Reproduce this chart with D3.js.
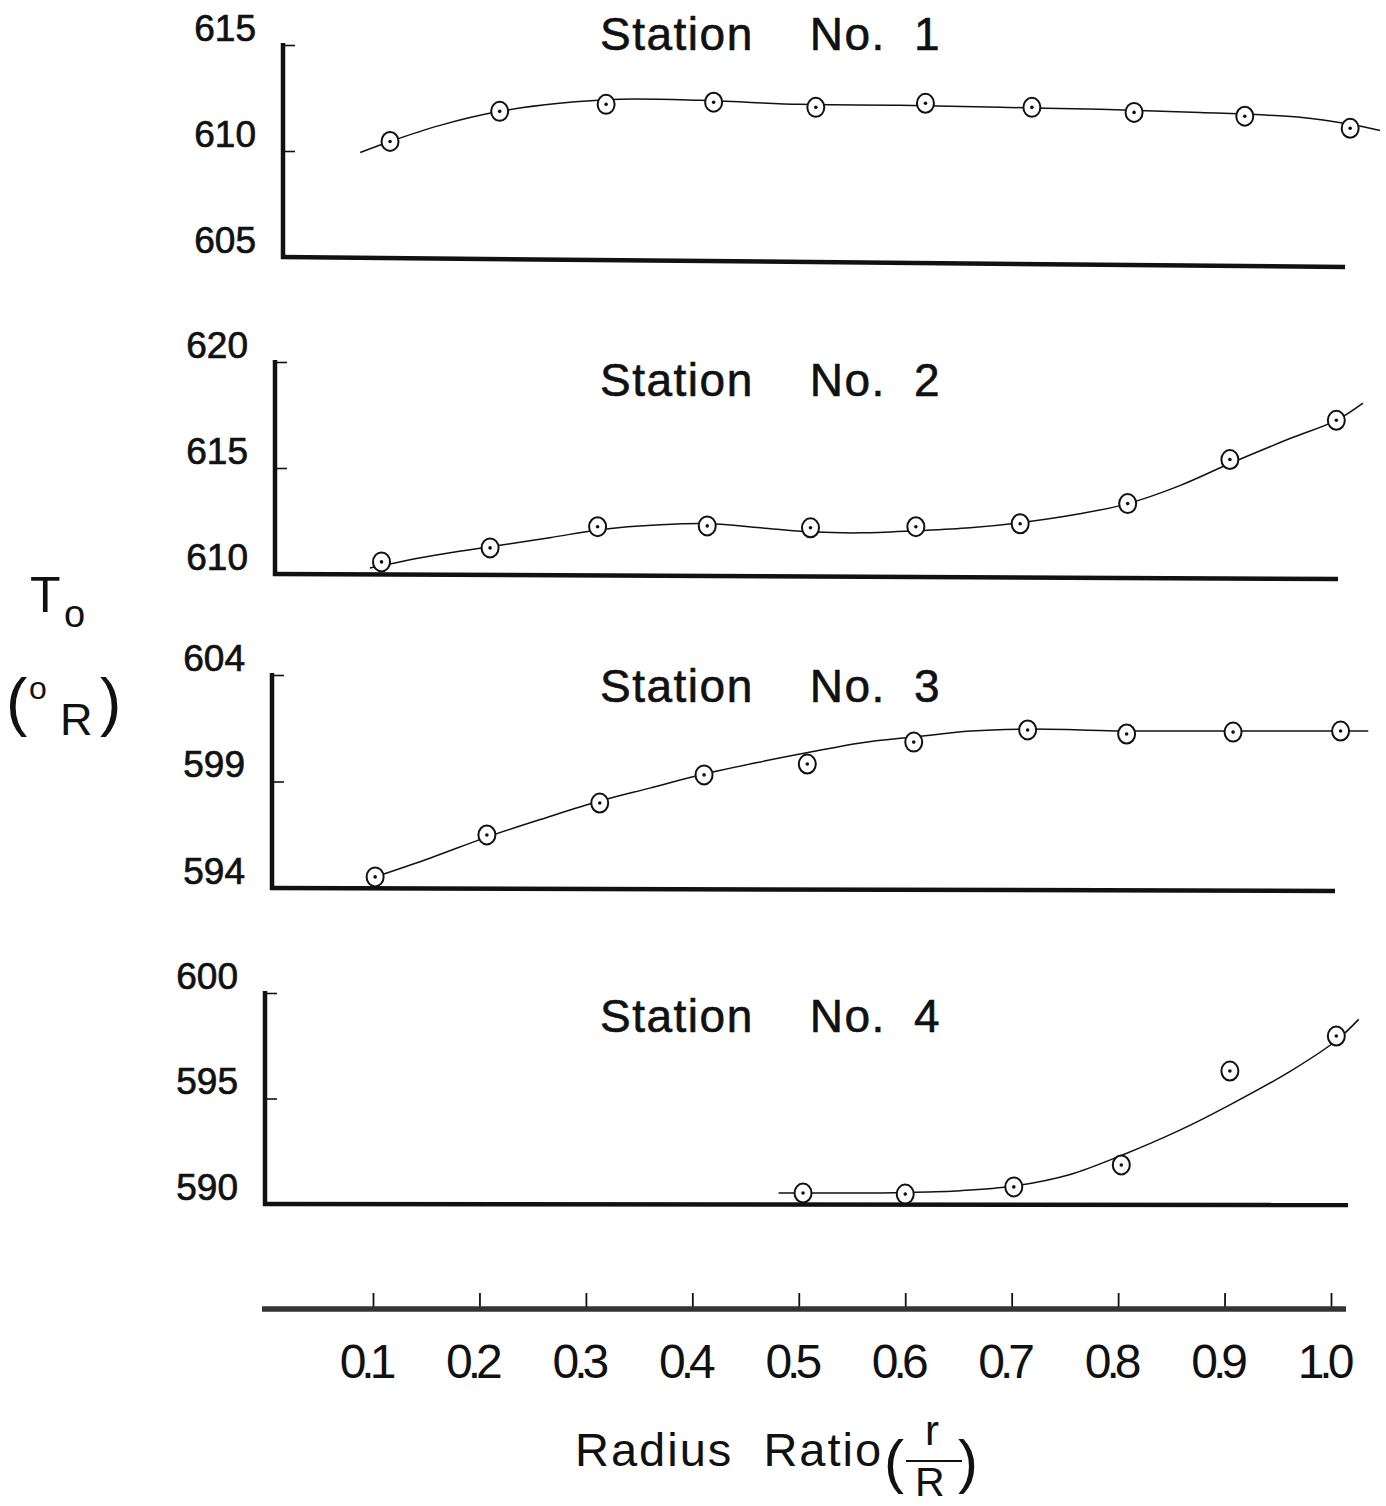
<!DOCTYPE html>
<html>
<head>
<meta charset="utf-8">
<script src="https://cdn.jsdelivr.net/npm/d3@7/dist/d3.min.js"></script>
<style>
  html, body { margin: 0; padding: 0; background: #fff; }
  svg { display: block; }
  text { font-family: "Liberation Sans", Arial, sans-serif; fill: #111; }
</style>
</head>
<body>
<svg id="chart" width="1386" height="1506"></svg>
<script>
// ---------------- DATA ----------------
const xTicks = [0.1, 0.2, 0.3, 0.4, 0.5, 0.6, 0.7, 0.8, 0.9, 1.0];
const xTickLabels = ["0.1", "0.2", "0.3", "0.4", "0.5", "0.6", "0.7", "0.8", "0.9", "1.0"];

const stationNames = ["Station No. 1", "Station No. 2", "Station No. 3", "Station No. 4"];

// Station 1
const st1Ticks = [605, 610, 615];
const st1R = [0.116, 0.219, 0.319, 0.420, 0.516, 0.619, 0.719, 0.815, 0.919, 1.018];
const st1T = [610.45, 611.87, 612.20, 612.30, 612.06, 612.25, 612.06, 611.82, 611.64, 611.07];
const fit1R = [0.088, 0.116, 0.163, 0.219, 0.275, 0.332, 0.407, 0.501, 0.595, 0.689, 0.783, 0.877, 0.971, 1.018, 1.046];
const fit1T = [609.93, 610.45, 611.21, 611.87, 612.25, 612.44, 612.39, 612.20, 612.16, 612.06, 611.97, 611.82, 611.59, 611.26, 610.97];

// Station 2
const st2Ticks = [610, 615, 620];
const st2R = [0.108, 0.210, 0.311, 0.414, 0.511, 0.610, 0.708, 0.809, 0.905, 1.005];
const st2T = [610.57, 611.23, 612.23, 612.27, 612.18, 612.23, 612.37, 613.32, 615.40, 617.25];
const fit2R = [0.097, 0.154, 0.210, 0.266, 0.313, 0.370, 0.417, 0.464, 0.511, 0.558, 0.610, 0.661, 0.708, 0.764, 0.809, 0.858, 0.905, 0.962, 1.005, 1.030];
const fit2T = [610.28, 610.85, 611.28, 611.71, 612.09, 612.32, 612.37, 612.18, 611.99, 611.94, 612.04, 612.18, 612.42, 612.84, 613.32, 614.17, 615.21, 616.40, 617.25, 618.06];

// Station 3
const st3Ticks = [594, 599, 604];
const st3R = [0.102, 0.207, 0.313, 0.411, 0.508, 0.608, 0.715, 0.808, 0.908, 1.009];
const st3T = [594.52, 596.49, 597.99, 599.31, 599.82, 600.85, 601.42, 601.23, 601.32, 601.37];
const fit3R = [0.102, 0.154, 0.207, 0.262, 0.313, 0.360, 0.411, 0.464, 0.511, 0.558, 0.608, 0.662, 0.715, 0.765, 0.808, 0.858, 0.908, 0.962, 1.009, 1.035];
const fit3T = [594.52, 595.41, 596.39, 597.29, 598.08, 598.69, 599.35, 599.92, 600.38, 600.81, 601.09, 601.37, 601.46, 601.42, 601.37, 601.37, 601.37, 601.37, 601.37, 601.37];

// Station 4
const st4Ticks = [590, 595, 600];
const st4R = [0.504, 0.600, 0.702, 0.803, 0.905, 1.005];
const st4T = [590.52, 590.47, 590.81, 591.85, 596.30, 597.96];
const fit4R = [0.481, 0.548, 0.600, 0.652, 0.702, 0.755, 0.803, 0.858, 0.905, 0.962, 1.005, 1.026];
const fit4T = [590.52, 590.52, 590.55, 590.63, 590.85, 591.40, 592.30, 593.50, 594.70, 596.30, 597.75, 598.75];

// ---------------- LAYOUT ----------------
const panels = [
  { name: stationNames[0], ticks: st1Ticks, r: st1R, t: st1T, fr: fit1R, ft: fit1T,
    axisX: 283, top: 45, bottom: 257, right: 1345, slant: 10, titleY: 50 },
  { name: stationNames[1], ticks: st2Ticks, r: st2R, t: st2T, fr: fit2R, ft: fit2T,
    axisX: 275, top: 362, bottom: 574, right: 1338, slant: 5, titleY: 396 },
  { name: stationNames[2], ticks: st3Ticks, r: st3R, t: st3T, fr: fit3R, ft: fit3T,
    axisX: 272, top: 675, bottom: 888, right: 1335, slant: 3, titleY: 702 },
  { name: stationNames[3], ticks: st4Ticks, r: st4R, t: st4T, fr: fit4R, ft: fit4T,
    axisX: 265, top: 993, bottom: 1204, right: 1348, slant: 1, titleY: 1032 }
];

const svg = d3.select("#chart");
const x = d3.scaleLinear().domain([0.1, 1.0]).range([373, 1331]);

panels.forEach(p => {
  const lo = d3.min(p.ticks), hi = d3.max(p.ticks);
  const y = d3.scaleLinear().domain([lo, hi]).range([p.bottom, p.top]);
  const g = svg.append("g");

  // thin tick marks pointing right
  const ax = g.append("g")
    .attr("transform", `translate(${p.axisX},0)`)
    .call(d3.axisRight(y).tickValues(p.ticks).tickSize(12).tickFormat(""));
  ax.select(".domain").remove();
  ax.selectAll(".tick line").attr("stroke", "#111").attr("stroke-width", 1.6);

  // tick labels
  const lab = g.append("g")
    .attr("transform", `translate(${p.axisX - 27},0)`)
    .call(d3.axisLeft(y).tickValues(p.ticks).tickSize(0).tickPadding(0).tickFormat(d3.format("d")));
  lab.select(".domain").remove();
  lab.selectAll(".tick text")
    .attr("font-size", 37)
    .attr("font-family", "Liberation Sans, Arial, sans-serif")
    .attr("fill", "#111")
    .attr("stroke", "#111").attr("stroke-width", 0.7)
    .attr("dy", "0.12em")
    .attr("transform", "translate(0,-9)");

  // thick y axis line
  g.append("line")
    .attr("x1", p.axisX).attr("x2", p.axisX)
    .attr("y1", y(hi) - 2).attr("y2", y(lo) + 2)
    .attr("stroke", "#111").attr("stroke-width", 4.5);

  // thick baseline (hand-drawn, slightly slanted)
  g.append("line")
    .attr("x1", p.axisX - 2).attr("x2", p.right)
    .attr("y1", y(lo)).attr("y2", y(lo) + p.slant)
    .attr("stroke", "#111").attr("stroke-width", 4.5);

  // fitted curve
  const fitPts = p.fr.map((v, i) => [v, p.ft[i]]);
  g.append("path")
    .datum(fitPts)
    .attr("fill", "none")
    .attr("stroke", "#111")
    .attr("stroke-width", 1.5)
    .attr("d", d3.line().x(d => x(d[0])).y(d => y(d[1])).curve(d3.curveCatmullRom.alpha(0.5)));

  // data points: open circle with centre dot
  const pts = p.r.map((v, i) => [v, p.t[i]]);
  const mk = g.append("g").selectAll("g").data(pts).join("g")
    .attr("transform", d => `translate(${x(d[0])},${y(d[1])})`);
  mk.append("ellipse").attr("rx", 8.5).attr("ry", 9.5)
    .attr("fill", "#fff").attr("stroke", "#111").attr("stroke-width", 2);
  mk.append("circle").attr("r", 1.8).attr("fill", "#111");

  // title
  const parts = p.name.split(" ");
  const tt = g.append("text")
    .attr("x", 600).attr("y", p.titleY)
    .attr("font-size", 46)
    .attr("letter-spacing", 1.5)
    .attr("stroke", "#111").attr("stroke-width", 0.6);
  tt.append("tspan").text(parts[0]);
  tt.append("tspan").attr("dx", 56).text(parts[1] + " ");
  tt.append("tspan").attr("dx", 14).text(parts[2]);
});

// ---------------- BOTTOM AXIS ----------------
const axisY = 1308;
const bx = svg.append("g")
  .attr("transform", `translate(0,${axisY})`)
  .call(d3.axisTop(x).tickValues(xTicks).tickSize(15).tickFormat(""));
bx.select(".domain").remove();
bx.selectAll(".tick line").attr("stroke", "#111").attr("stroke-width", 1.8);

svg.append("line")
  .attr("x1", 262).attr("x2", 1346)
  .attr("y1", axisY + 1).attr("y2", axisY + 1)
  .attr("stroke", "#333").attr("stroke-width", 5.5);

const bl = svg.append("g")
  .attr("transform", `translate(0,1378)`)
  .call(d3.axisBottom(x).tickValues(xTicks).tickSize(0).tickPadding(0)
    .tickFormat((d, i) => xTickLabels[i]));
bl.select(".domain").remove();
bl.selectAll(".tick text")
  .attr("font-size", 48)
  .attr("letter-spacing", -5)
  .attr("font-family", "Liberation Sans, Arial, sans-serif")
  .attr("fill", "#111")
  .attr("dy", 0)
  .attr("transform", "translate(-8,0)");

// ---------------- AXIS TITLES ----------------
// Y: T_o (°R)
svg.append("text").attr("x", 30).attr("y", 612).attr("font-size", 50).text("T");
svg.append("text").attr("x", 64).attr("y", 627).attr("font-size", 38).text("o");
svg.append("text").attr("x", 6).attr("y", 724).attr("font-size", 64).text("(");
svg.append("text").attr("x", 29).attr("y", 699).attr("font-size", 32).text("o");
svg.append("text").attr("x", 60).attr("y", 735).attr("font-size", 45).text("R");
svg.append("text").attr("x", 100).attr("y", 724).attr("font-size", 64).text(")");

// X: Radius Ratio (r/R)
svg.append("text").attr("x", 575).attr("y", 1466).attr("font-size", 47)
  .attr("letter-spacing", 2).attr("xml:space", "preserve").text("Radius  Ratio");
svg.append("text").attr("x", 884).attr("y", 1482).attr("font-size", 60).text("(");
svg.append("text").attr("x", 925).attr("y", 1445).attr("font-size", 42).text("r");
svg.append("line").attr("x1", 906).attr("x2", 962).attr("y1", 1461).attr("y2", 1461)
  .attr("stroke", "#111").attr("stroke-width", 2);
svg.append("text").attr("x", 915).attr("y", 1496).attr("font-size", 41).text("R");
svg.append("text").attr("x", 958).attr("y", 1482).attr("font-size", 60).text(")");
</script>
</body>
</html>
